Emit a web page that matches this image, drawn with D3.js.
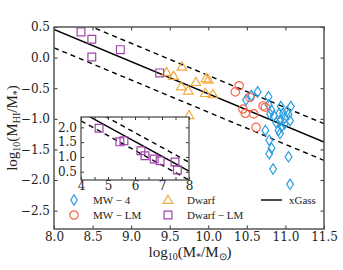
<!DOCTYPE html>
<html>
<head>
<meta charset="utf-8">
<script src="https://cdn.jsdelivr.net/npm/d3@7"></script>
<style>
  body { margin: 0; background: #fff; }
  svg { display: block; }
  .tick text { font-family: "DejaVu Serif", serif; }
</style>
</head>
<body>
<svg id="chart"></svg>
<script>
// MW-4 (diamonds)
const mw4X = [10.64, 10.78, 10.56, 10.49, 10.78, 10.94, 11.07, 10.82, 10.80, 10.85, 10.92, 10.97, 11.02, 11.04,
  10.99, 10.93, 10.88, 10.99, 11.06, 10.95, 10.91, 10.93, 10.74, 10.79, 10.82, 10.79, 11.04, 10.84, 11.06];
const mw4Y = [-0.56, -0.64, -0.62, -0.69, -0.77, -0.80, -0.80, -0.86, -0.92, -0.95, -0.91, -0.91, -0.88, -0.93,
  -0.99, -1.03, -1.06, -1.08, -1.03, -1.13, -1.19, -1.24, -1.19, -1.35, -1.48, -1.57, -1.62, -1.82, -2.07];
// MW-LM (circles)
const mwlmX = [10.40, 10.35, 10.54, 10.45, 10.48, 10.59, 10.71, 10.74, 10.62];
const mwlmY = [-0.46, -0.56, -0.65, -0.84, -0.91, -0.92, -0.79, -0.81, -1.14];
// Dwarf (triangles)
const dwarfX = [9.46, 9.66, 9.55, 9.65, 9.74, 9.84, 9.97, 10.00, 9.96, 10.06, 9.75];
const dwarfY = [-0.24, -0.15, -0.30, -0.47, -0.54, -0.40, -0.34, -0.36, -0.58, -0.60, -0.94];
// Dwarf-LM (squares)
const dlmX = [8.35, 8.49, 8.49, 8.86, 9.37];
const dlmY = [0.42, 0.30, 0.01, 0.13, -0.25];
// xGass fit and scatter band
const fitX = [8.0, 11.5];
const fitY = [0.46, -1.38];
const bandOffset = 0.3;
// inset: Dwarf-LM
const insetX = [4.67, 5.44, 5.59, 6.22, 6.37, 6.71, 6.93, 7.48, 7.57];
const insetY = [1.97, 1.51, 1.55, 1.21, 1.04, 0.93, 0.87, 0.83, 0.56];
const insetFitX = [4.0, 8.0];
const insetFitY = [2.52, 0.52];

const xTicks = [8.0, 8.5, 9.0, 9.5, 10.0, 10.5, 11.0, 11.5];
const yTicks = [0.5, 0.0, -0.5, -1.0, -1.5, -2.0, -2.5];
const insetXTicks = [4, 4.5, 5, 5.5, 6, 6.5, 7, 7.5, 8];
const insetYTicks = [0.5, 1.0, 1.5, 2.0];

const legendItems = [
  { label: "MW − 4", shape: "diamond", col: 0, row: 0 },
  { label: "MW − LM", shape: "circle", col: 0, row: 1 },
  { label: "Dwarf", shape: "triangle", col: 1, row: 0 },
  { label: "Dwarf − LM", shape: "square", col: 1, row: 1 }
];

const width = 343, height = 270;
const svg = d3.select('#chart').attr('width', width).attr('height', height);

const x = d3.scaleLinear().domain([8.0, 11.5]).range([54, 324]);
const y = d3.scaleLinear().domain([-2.8, 0.5]).range([229, 27]);

const colors = { diamond: "#2b9de0", circle: "#f6644c", triangle: "#f0aa3c", square: "#a044aa" };

function shapePath(shape) {
  if (shape === "diamond") return "M0,-5.2L3.4,0L0,5.2L-3.4,0Z";
  if (shape === "triangle") return "M0,-4.8L4.8,3.4L-4.8,3.4Z";
  if (shape === "square") return "M-3.9,-3.9h7.8v7.8h-7.8Z";
  return d3.arc()({ innerRadius: 0, outerRadius: 4.2, startAngle: 0, endAngle: 2 * Math.PI });
}

function addTicks(g, sx, sy, xt, yt, xLabelFn, yLabelFn, len, xPad, yPad) {
  const [x0, x1] = sx.range(), [y0, y1] = sy.range();
  // inward ticks, all four sides
  g.append('g').attr('transform', `translate(0,${y0})`)
    .call(d3.axisBottom(sx).tickValues(xt).tickSize(-len).tickFormat(xLabelFn).tickPadding(xPad))
    .call(a => a.select('.domain').remove());
  g.append('g').attr('transform', `translate(0,${y1})`)
    .call(d3.axisTop(sx).tickValues(xt).tickSize(-len).tickFormat(''))
    .call(a => a.select('.domain').remove());
  g.append('g').attr('transform', `translate(${x0},0)`)
    .call(d3.axisLeft(sy).tickValues(yt).tickSize(-len).tickFormat(yLabelFn).tickPadding(yPad))
    .call(a => a.select('.domain').remove());
  g.append('g').attr('transform', `translate(${x1},0)`)
    .call(d3.axisRight(sy).tickValues(yt).tickSize(-len).tickFormat(''))
    .call(a => a.select('.domain').remove());
  g.selectAll('.tick line').attr('stroke', '#333');
  g.selectAll('.tick text').attr('font-size', 12).attr('fill', '#222');
}

// main fit lines
svg.append('clipPath').attr('id', 'mainclip').append('rect')
  .attr('x', 54).attr('y', 27).attr('width', 270).attr('height', 202);
const plot = svg.append('g').attr('clip-path', 'url(#mainclip)');
const lineGen = d3.line().x(d => x(d[0])).y(d => y(d[1]));

[[0, null], [bandOffset, '5,4'], [-bandOffset, '5,4']].forEach(([off, dash]) => {
  plot.append('path')
    .datum(fitX.map((v, i) => [v, fitY[i] + off]))
    .attr('d', lineGen)
    .attr('fill', 'none')
    .attr('stroke', '#000')
    .attr('stroke-width', 1.4)
    .attr('stroke-dasharray', dash);
});

function scatter(g, sx, sy, xs, ys, shape) {
  g.append('g').selectAll('path')
    .data(xs.map((v, i) => [v, ys[i]]))
    .enter()
    .append('path')
    .attr('transform', d => `translate(${sx(d[0])},${sy(d[1])})`)
    .attr('d', shapePath(shape))
    .attr('fill', 'none')
    .attr('stroke', colors[shape])
    .attr('stroke-width', 1.2);
}

scatter(plot, x, y, mw4X, mw4Y, 'diamond');
scatter(plot, x, y, mwlmX, mwlmY, 'circle');
scatter(plot, x, y, dwarfX, dwarfY, 'triangle');
scatter(plot, x, y, dlmX, dlmY, 'square');

// main axes frame + ticks
const axes = svg.append('g');
addTicks(axes, x, y, xTicks, yTicks, d3.format('.1f'),
  d => d3.format('.1f')(d).replace('-', '−'), 3.5, 3, 4);
svg.append('rect').attr('x', 54).attr('y', 27).attr('width', 270).attr('height', 202)
  .attr('fill', 'none').attr('stroke', '#555').attr('stroke-width', 1.5);

// legend
const legend = svg.append('g');
legendItems.forEach(it => {
  const lx = it.col === 0 ? 74 : 168, ly = it.row === 0 ? 200 : 215;
  legend.append('path')
    .attr('transform', `translate(${lx},${ly})`)
    .attr('d', shapePath(it.shape))
    .attr('fill', 'none').attr('stroke', colors[it.shape]).attr('stroke-width', 1.2);
  legend.append('text')
    .attr('x', lx + 19).attr('y', ly + 4)
    .attr('font-family', 'Liberation Serif, serif').attr('font-size', 11).attr('fill', '#222')
    .text(it.label);
});
legend.append('line').attr('x1', 261).attr('x2', 282).attr('y1', 200).attr('y2', 200)
  .attr('stroke', '#000').attr('stroke-width', 1.4);
legend.append('text').attr('x', 289).attr('y', 204)
  .attr('font-family', 'Liberation Serif, serif').attr('font-size', 11).attr('fill', '#222')
  .text('xGass');

// inset
const ix = d3.scaleLinear().domain([4, 8]).range([81, 189]);
const iy = d3.scaleLinear().domain([0.22, 2.35]).range([180, 117]);
svg.append('rect').attr('x', 81).attr('y', 117).attr('width', 108).attr('height', 63).attr('fill', '#fff');
svg.append('clipPath').attr('id', 'insetclip').append('rect')
  .attr('x', 81).attr('y', 117).attr('width', 108).attr('height', 63);
const inset = svg.append('g').attr('clip-path', 'url(#insetclip)');
const iLine = d3.line().x(d => ix(d[0])).y(d => iy(d[1]));
[[0, null], [bandOffset, '5,4'], [-bandOffset, '5,4']].forEach(([off, dash]) => {
  inset.append('path')
    .datum(insetFitX.map((v, i) => [v, insetFitY[i] + off]))
    .attr('d', iLine)
    .attr('fill', 'none').attr('stroke', '#000').attr('stroke-width', 1.4)
    .attr('stroke-dasharray', dash);
});
scatter(inset, ix, iy, insetX, insetY, 'square');
const insetAxes = svg.append('g');
addTicks(insetAxes, ix, iy, insetXTicks, insetYTicks,
  d => Number.isInteger(d) ? d : '', d3.format('.1f'), 3, 1, 4);
svg.append('rect').attr('x', 81).attr('y', 117).attr('width', 108).attr('height', 63)
  .attr('fill', 'none').attr('stroke', '#444').attr('stroke-width', 1.2);

// axis labels
svg.append('text')
  .attr('x', 190).attr('y', 257).attr('text-anchor', 'middle')
  .attr('font-family', 'Liberation Serif, serif').attr('font-size', 15).attr('fill', '#222')
  .call(t => {
    t.append('tspan').text('log');
    t.append('tspan').attr('font-size', 10).attr('dy', 3).text('10');
    t.append('tspan').attr('dy', -3).text('(M');
    t.append('tspan').attr('font-size', 10).attr('dy', 3).text('*');
    t.append('tspan').attr('dy', -3).text('/M');
    t.append('tspan').attr('font-size', 10).attr('dy', 3).text('⊙');
    t.append('tspan').attr('dy', -3).text(')');
  });
svg.append('text')
  .attr('transform', 'translate(17,128) rotate(-90)').attr('text-anchor', 'middle')
  .attr('font-family', 'Liberation Serif, serif').attr('font-size', 15).attr('fill', '#222')
  .call(t => {
    t.append('tspan').text('log');
    t.append('tspan').attr('font-size', 10).attr('dy', 3).text('10');
    t.append('tspan').attr('dy', -3).text('(M');
    t.append('tspan').attr('font-size', 10).attr('dy', 3).text('HI');
    t.append('tspan').attr('dy', -3).text('/M');
    t.append('tspan').attr('font-size', 10).attr('dy', 3).text('*');
    t.append('tspan').attr('dy', -3).text(')');
  });
</script>
</body>
</html>
